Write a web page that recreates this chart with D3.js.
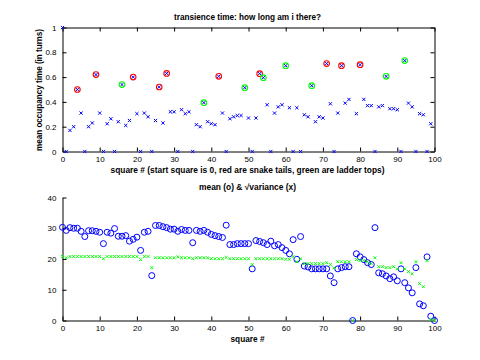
<!DOCTYPE html>
<html><head><meta charset="utf-8">
<script src="https://cdn.jsdelivr.net/npm/d3@7"></script>
<style>
body{margin:0;background:#fff;}
svg{display:block;}
text{font-family:"Liberation Sans",Arial,Helvetica,sans-serif;}
</style></head>
<body><svg id="c" width="480" height="360"></svg>
<script>
// ---- data ----
const squares = d3.range(0, 100);
const occupancy = [1,0,0.17,0.2,0.5,0.31,0,0.2,0.23,0.62,
 0.31,0,0.224,0.264,0,0.24,0.54,0.21,0.25,0.6,
 0.305,0,0.31,0.28,0,0.25,0.52,0.23,0.63,0.32,
 0.32,0,0.337,0.305,0.32,0,0.216,0.2,0.394,0.24,
 0.224,0.216,0.606,0.31,0,0.264,0.28,0.29,0.29,0.515,
 0.27,0,0.27,0.628,0.595,0.377,0,0.31,0.36,0.377,
 0.692,0.353,0,0.353,0,0.296,0.28,0.531,0.24,0.28,
 0.27,0.709,0.385,0,0.31,0.692,0.39,0.42,null,0.305,
 0.70,0.42,0.37,0.37,0,0.36,0.37,0.606,0.345,0.345,
 0.337,0,0.733,0.39,0.36,0,0.305,0.296,0,0.224];
const snakeTails = [4,9,19,26,28,42,53,71,75,80];
const ladderTops = [16,38,49,54,60,67,87,92];

const squaresAll = d3.range(0, 101);
const meanTurns = [30.3,29.3,30.2,30,30,29,27.3,29.2,29.2,29,
 28.7,25,28.7,28.4,29.9,27.4,27.4,27.6,25.8,26.4,
 27.1,22.8,28.7,29,14.6,30.9,30.9,30.5,30.2,29.7,
 29.7,29,29.6,29.3,29.3,25.3,29.3,29,29.3,28.7,
 28,27.6,27.3,27,31,24.7,24.7,25,25,25,
 25,16.8,26,25.7,25.3,24.7,25.8,24.3,24.7,23.7,
 22.8,21.7,26.3,19.9,27.3,17.7,17.4,16.8,16.8,16.8,
 16.8,16.8,14.5,12.3,16.8,17.2,17.5,17.5,0,21.7,
 20.7,19.8,18.8,18.2,30.2,15.5,15.2,14.5,13.6,14.2,
 12.9,16.8,12.3,10.6,9.0,17.2,5.4,4.8,20.7,1.4,0];
const sdTurns = [20.8,20.4,20.8,20.8,20.8,20.8,20.8,20.8,20.8,20.8,
 20.8,20.1,20.8,20.8,20.8,20.8,20.8,20.8,20.8,20.8,
 20.8,19.8,20.8,20.8,17.2,20.4,20.4,20.4,20.4,20.4,
 20.4,20.7,20.4,20.4,20.4,20.1,20.4,20.4,20.4,20.4,
 20.1,20.1,20.1,20.1,20.5,20.1,20.1,20.1,20.1,20.1,
 20.1,18.2,20.1,20.1,20.1,20.1,20.1,20.1,20.1,20.1,
 19.9,19.9,20.8,19.1,20.1,18.5,18.5,18.5,18.5,18.5,
 18.5,18.8,18.2,17.1,19.1,19.1,19.1,19.1,0,19.8,
 19.5,19.5,19.1,18.5,20.4,17.5,17.5,17.2,17.2,17.5,
 16.8,18.8,16.8,15.9,15.2,19.1,12.0,11.0,19.5,0.3,0];

const xTicks = [0,10,20,30,40,50,60,70,80,90,100];
const yTicksTop = [0,0.2,0.4,0.6,0.8,1];
const yTickLabelsTop = ["0","0.2","0.4","0.6","0.8","1"];
const yTicksBot = [0,10,20,30,40];

const titleTop = "transience time: how long am i there?";
const xlabelTop = "square # (start square is 0, red are snake tails, green are ladder tops)";
const ylabelTop = "mean occupancy time (in turns)";
const titleBot = "mean (o) & \u221Avariance (x)";
const xlabelBot = "square #";

// ---- drawing ----
const svg = d3.select("#c");
const L = 62.5, R = 434.5;
const x = d3.scaleLinear().domain([0,100]).range([L,R]);
const yT = d3.scaleLinear().domain([0,1]).range([151.5,27.5]);
const yB = d3.scaleLinear().domain([0,40]).range([320.5,197.5]);
const TK = 4;

function styleAxis(g, showText){
  g.selectAll("path.domain").attr("stroke","#000").attr("stroke-width",1);
  g.selectAll(".tick line").attr("stroke","#000");
  g.selectAll(".tick text").attr("font-size","8px").attr("fill","#000")
    .attr("font-family",'"Liberation Sans",Arial,sans-serif');
  if(!showText) g.selectAll(".tick text").remove();
}

// top axes
const gTop = svg.append("g");
gTop.append("g").attr("transform",`translate(0,${yT(0)})`)
  .call(d3.axisBottom(x).tickValues(xTicks).tickSizeInner(-TK).tickSizeOuter(0).tickPadding(5).tickFormat(d3.format("d")))
  .call(g=>styleAxis(g,true));
gTop.append("g").attr("transform",`translate(0,${yT(1)})`)
  .call(d3.axisTop(x).tickValues(xTicks).tickSizeInner(-TK).tickSizeOuter(0))
  .call(g=>styleAxis(g,false));
gTop.append("g").attr("transform",`translate(${L},0)`)
  .call(d3.axisLeft(yT).tickValues(yTicksTop).tickSizeInner(-TK).tickSizeOuter(0).tickPadding(6).tickFormat((d,i)=>yTickLabelsTop[i]))
  .call(g=>styleAxis(g,true));
gTop.append("g").attr("transform",`translate(${R},0)`)
  .call(d3.axisRight(yT).tickValues(yTicksTop).tickSizeInner(-TK).tickSizeOuter(0))
  .call(g=>styleAxis(g,false));

const xMark = s => `M${-s},${-s}L${s},${s}M${-s},${s}L${s},${-s}`;

const topPts = squares.map((s,i)=>({s, v: occupancy[i]})).filter(d=>d.v!==null);
gTop.append("g").selectAll("path").data(topPts).join("path")
  .attr("transform",d=>`translate(${x(d.s)},${yT(d.v)})`)
  .attr("d",xMark(1.6)).attr("stroke","#0000ff").attr("stroke-width",1).attr("fill","none");

gTop.append("g").selectAll("circle").data(snakeTails).join("circle")
  .attr("cx",d=>x(d)).attr("cy",d=>yT(occupancy[d])).attr("r",2.8)
  .attr("fill","none").attr("stroke","#ff0000").attr("stroke-width",1.1);
gTop.append("g").selectAll("circle").data(ladderTops).join("circle")
  .attr("cx",d=>x(d)).attr("cy",d=>yT(occupancy[d])).attr("r",2.8)
  .attr("fill","none").attr("stroke","#00ff00").attr("stroke-width",1.1);

// bottom axes
const gBot = svg.append("g");
gBot.append("g").attr("transform",`translate(0,${yB(0)})`)
  .call(d3.axisBottom(x).tickValues(xTicks).tickSizeInner(-TK).tickSizeOuter(0).tickPadding(5).tickFormat(d3.format("d")))
  .call(g=>styleAxis(g,true));
gBot.append("g").attr("transform",`translate(${L},0)`)
  .call(d3.axisLeft(yB).tickValues(yTicksBot).tickSizeInner(-TK).tickSizeOuter(0).tickPadding(6).tickFormat(d3.format("d")))
  .call(g=>styleAxis(g,true));

gBot.append("g").selectAll("circle").data(squaresAll).join("circle")
  .attr("cx",d=>x(d)).attr("cy",d=>yB(meanTurns[d])).attr("r",3)
  .attr("fill","none").attr("stroke","#0000ff").attr("stroke-width",1);
gBot.append("g").selectAll("path").data(squaresAll).join("path")
  .attr("transform",d=>`translate(${x(d)},${yB(sdTurns[d])})`)
  .attr("d",xMark(1.4)).attr("stroke","#00ff00").attr("stroke-width",1).attr("fill","none");

// texts
function label(txt, cx, cy, len, rot){
  const t = svg.append("text").text(txt)
    .attr("font-size","8.5px").attr("font-weight","bold").attr("fill","#000")
    .attr("text-anchor","middle")
    .attr("textLength",len).attr("lengthAdjust","spacingAndGlyphs");
  if(rot) t.attr("transform",`translate(${cx},${cy}) rotate(-90)`);
  else t.attr("x",cx).attr("y",cy);
  return t;
}
label(titleTop, 247.5, 20, 147);
label(xlabelTop, 247.5, 172.5, 274);
label(ylabelTop, 41.5, 90, 122, true);
label(titleBot, 247.5, 190, 97);
label(xlabelBot, 247.5, 342, 34);
</script></body></html>
